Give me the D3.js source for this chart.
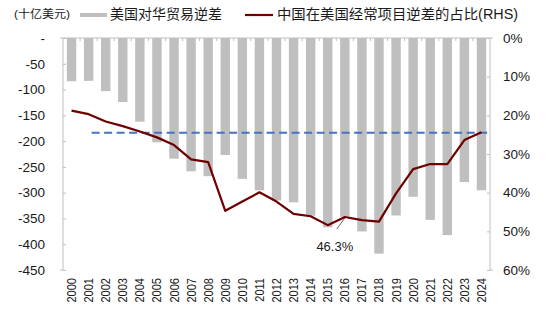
<!DOCTYPE html>
<html><head><meta charset="utf-8">
<script src="https://cdn.jsdelivr.net/npm/d3@7/dist/d3.min.js"></script>
<style>
body{margin:0;background:#fff;}
text{font-family:"Liberation Sans",Arial,"Noto Sans CJK SC",sans-serif;fill:#1a1a1a;}
.cjk{font-family:"Liberation Sans","Noto Sans CJK SC",sans-serif;}
</style></head>
<body>
<svg id="c" width="550" height="326"></svg>
<script>
const years = ["2000","2001","2002","2003","2004","2005","2006","2007","2008","2009","2010","2011","2012","2013","2014","2015","2016","2017","2018","2019","2020","2021","2022","2023","2024"];
const deficit = [-83.8,-83.1,-103.1,-124.1,-162.3,-202.3,-234.1,-258.5,-268.0,-226.9,-273.1,-295.4,-315.1,-318.7,-344.8,-367.2,-346.8,-375.2,-418.2,-344.3,-308.0,-352.8,-382.3,-279.4,-295.4];
const share = [0.188,0.197,0.216,0.228,0.242,0.257,0.277,0.314,0.321,0.447,0.423,0.399,0.423,0.455,0.461,0.484,0.463,0.471,0.475,0.402,0.339,0.326,0.326,0.264,0.244];
const refShare = 0.245;
const leftTicks = [0,-50,-100,-150,-200,-250,-300,-350,-400,-450];
const leftTickLabels = ["-","-50","-100","-150","-200","-250","-300","-350","-400","-450"];
const rightTicks = [0,0.1,0.2,0.3,0.4,0.5,0.6];
const rightTickLabels = ["0%","10%","20%","30%","40%","50%","60%"];
const annotYear = "2016";
const annotText = "46.3%";
const unitText = "(十亿美元)";
const legend1 = "美国对华贸易逆差";
const legend2 = "中国在美国经常项目逆差的占比(RHS)";

const svg = d3.select("#c");
const L = 63, R = 490, T = 38, B = 270;
const xb = d3.scaleBand().domain(years).range([L, R]);
const yL = d3.scaleLinear().domain([-450, 0]).range([B, T]);
const yR = d3.scaleLinear().domain([0, 0.6]).range([T, B]);
const axisCol = "#bfbfbf";

// bars
svg.append("g").selectAll("rect").data(deficit).join("rect")
  .attr("x", (d,i) => xb(years[i]) + xb.bandwidth()/2 - 4.7)
  .attr("width", 9.4)
  .attr("y", yL(0))
  .attr("height", d => yL(d) - yL(0))
  .attr("fill", "#bfbfbf");

// left axis
const gl = svg.append("g").attr("transform", `translate(${L},0)`)
  .call(d3.axisLeft(yL).tickValues(leftTicks).tickSize(-3).tickPadding(18).tickFormat((d,i)=>leftTickLabels[i]));
gl.select(".domain").attr("stroke", axisCol).attr("d", `M-3,${T}H0V${B}H-3`);
gl.selectAll(".tick line").attr("stroke", axisCol);
gl.selectAll(".tick text").attr("font-size", 13.5).attr("fill","#111").attr("font-family","Liberation Sans, Arial, sans-serif");

// right axis
const gr = svg.append("g").attr("transform", `translate(${R},0)`)
  .call(d3.axisRight(yR).tickValues(rightTicks).tickSize(-3).tickPadding(13).tickFormat((d,i)=>rightTickLabels[i]));
gr.select(".domain").attr("stroke", axisCol).attr("d", `M3,${T}H0V${B}H3`);
gr.selectAll(".tick line").attr("stroke", axisCol);
gr.selectAll(".tick text").attr("font-size", 13.5).attr("fill","#111").attr("font-family","Liberation Sans, Arial, sans-serif");

// top category axis (zero line) with ticks at band boundaries
const gt = svg.append("g");
gt.append("line").attr("x1", L).attr("x2", R).attr("y1", T).attr("y2", T).attr("stroke", axisCol);
gt.selectAll("line.t").data(years.slice(1)).join("line").attr("class","t")
  .attr("x1", d => xb(d)).attr("x2", d => xb(d)).attr("y1", T).attr("y2", T+3).attr("stroke", axisCol);

// x labels
svg.append("g").selectAll("text").data(years).join("text")
  .attr("transform", d => `translate(${xb(d)+xb.bandwidth()/2+4.5},278) rotate(-90) scale(0.85,1)`)
  .attr("text-anchor", "end").attr("font-size", 13).text(d => d);

// reference dashed line
svg.append("line")
  .attr("x1", xb("2001") + xb.bandwidth()/2 + 3).attr("x2", R)
  .attr("y1", yR(refShare)).attr("y2", yR(refShare))
  .attr("stroke", "#4472C4").attr("stroke-width", 2).attr("stroke-dasharray", "8,4.5");

// share line
const line = d3.line().x((d,i) => xb(years[i]) + xb.bandwidth()/2).y(d => yR(d));
svg.append("path").datum(share).attr("d", line)
  .attr("fill", "none").attr("stroke", "#6e0000").attr("stroke-width", 2.2).attr("stroke-linejoin","round");

// annotation
const ai = years.indexOf(annotYear);
const ax = xb(annotYear) + xb.bandwidth()/2, ay = yR(share[ai]);
svg.append("line").attr("x1", ax).attr("y1", ay+1).attr("x2", ax-8).attr("y2", ay+12)
  .attr("stroke", "#404040").attr("stroke-width", 0.8);
svg.append("text").attr("x", ax-10).attr("y", ay+34).attr("text-anchor","middle")
  .attr("font-size", 13).text(annotText);

// legend
svg.append("text").attr("class","cjk").attr("x", 14).attr("y", 18).attr("font-size", 11.5)
  .attr("textLength", 56).attr("lengthAdjust","spacingAndGlyphs").text(unitText);
svg.append("rect").attr("x", 80).attr("y", 13).attr("width", 27).attr("height", 4).attr("fill", "#bfbfbf");
svg.append("text").attr("class","cjk").attr("x", 110).attr("y", 19).attr("font-size", 14)
  .attr("textLength", 112).attr("lengthAdjust","spacingAndGlyphs").text(legend1);
svg.append("line").attr("x1", 245).attr("x2", 273).attr("y1", 15).attr("y2", 15).attr("stroke", "#6e0000").attr("stroke-width", 2.2);
svg.append("text").attr("class","cjk").attr("x", 277).attr("y", 19).attr("font-size", 14)
  .attr("textLength", 241).attr("lengthAdjust","spacingAndGlyphs").text(legend2);
</script>
</body></html>
